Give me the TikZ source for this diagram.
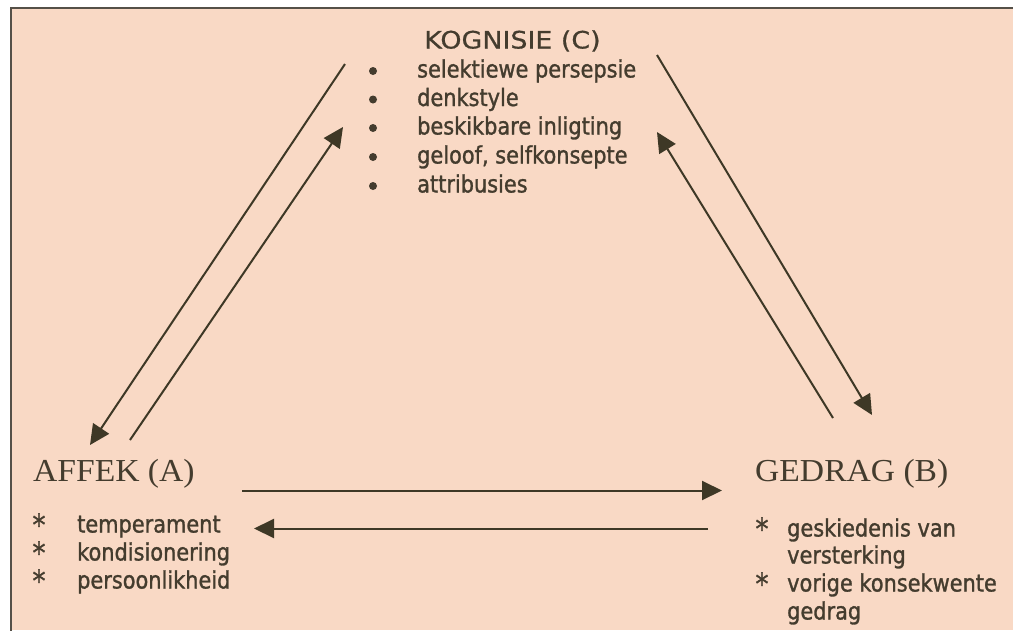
\documentclass[tikz,border=0pt]{standalone}
\usepackage{fontspec}
\setmainfont{Liberation Serif}
\newfontfamily\listfont[FakeStretch=0.87,FakeBold=1.2]{DejaVu Sans}
\newfontfamily\headfont[FakeStretch=1.12,FakeBold=0.6]{DejaVu Sans}
\newfontfamily\titlefont[FakeStretch=1.05]{Liberation Serif}
\usetikzlibrary{arrows.meta}
\definecolor{bgpeach}{RGB}{249,217,197}
\definecolor{inkc}{RGB}{68,60,46}
\definecolor{arrowc}{RGB}{62,56,38}
\definecolor{framec}{RGB}{85,80,72}
\begin{document}
\begin{tikzpicture}[x=1pt,y=-1pt,
  item/.style={anchor=base west, inner sep=0pt, text=inkc, font=\listfont\fontsize{24}{29}\selectfont},
  star/.style={anchor=base, inner sep=0pt, text=inkc, font=\listfont\fontsize{30}{29}\selectfont},
  headc/.style={anchor=base west, inner sep=0pt, text=inkc, font=\headfont\fontsize{24}{29}\selectfont},
  headab/.style={anchor=base west, inner sep=0pt, text=inkc, font=\titlefont\fontsize{32}{38}\selectfont},
  bulletdot/.style={circle, fill=inkc, minimum size=8pt, inner sep=0pt},
  conn/.style={draw=arrowc, line width=2pt, -{Triangle[length=20pt,width=19pt]}}
]
\useasboundingbox (0,0) rectangle (1013,630);
\fill[white] (0,0) rectangle (1013,630);
\fill[bgpeach] (11,8) rectangle (1013,630);
\draw[framec, line width=2.2pt] (11,632) -- (11,8) -- (1015,8);

% Cognition
\node[headc] (kog) at (424,48.5) {KOGNISIE (C)};
\node[bulletdot] (d1) at (373,71) {};
\node[bulletdot] (d2) at (373,99.5) {};
\node[bulletdot] (d3) at (373,128) {};
\node[bulletdot] (d4) at (373,157) {};
\node[bulletdot] (d5) at (373,186) {};
\node[item] (c1) at (417,77.5) {selektiewe persepsie};
\node[item] (c2) at (417,106) {denkstyle};
\node[item] (c3) at (417,134.5) {beskikbare inligting};
\node[item] (c4) at (417,163.5) {geloof, selfkonsepte};
\node[item] (c5) at (417,192.5) {attribusies};

% Affect
\node[headab] (aff) at (33,481.7) {AFFEK (A)};
\node[star] (sa1) at (39,535.5) {*};
\node[star] (sa2) at (39,563.5) {*};
\node[star] (sa3) at (39,591.5) {*};
\node[item] (a1) at (77,532.5) {temperament};
\node[item] (a2) at (77,560.5) {kondisionering};
\node[item] (a3) at (77,588.5) {persoonlikheid};

% Behaviour
\node[headab] (ged) at (755,481.7) {GEDRAG (B)};
\node[star] (sb1) at (762,539.5) {*};
\node[star] (sb3) at (762,594.5) {*};
\node[item] (b1) at (787,536.5) {geskiedenis van};
\node[item] (b2) at (787,563.5) {versterking};
\node[item] (b3) at (787,591.5) {vorige konsekwente};
\node[item] (b4) at (787,619.5) {gedrag};

% connector end points
\coordinate (CA0) at (345,64);
\coordinate (CA1) at (90,445);
\coordinate (AC0) at (130,440);
\coordinate (AC1) at (343,127);
\coordinate (CB0) at (657,55);
\coordinate (CB1) at (872,415);
\coordinate (BC0) at (833,418);
\coordinate (BC1) at (657,132);
\coordinate (AB0) at (242,490.5);
\coordinate (AB1) at (722,490.5);
\coordinate (BA0) at (708,528.5);
\coordinate (BA1) at (254,528.5);

\draw[conn] (CA0) -- (CA1);
\draw[conn] (AC0) -- (AC1);
\draw[conn] (CB0) -- (CB1);
\draw[conn] (BC0) -- (BC1);
\draw[conn] (AB0) -- (AB1);
\draw[conn] (BA0) -- (BA1);
\end{tikzpicture}
\end{document}
